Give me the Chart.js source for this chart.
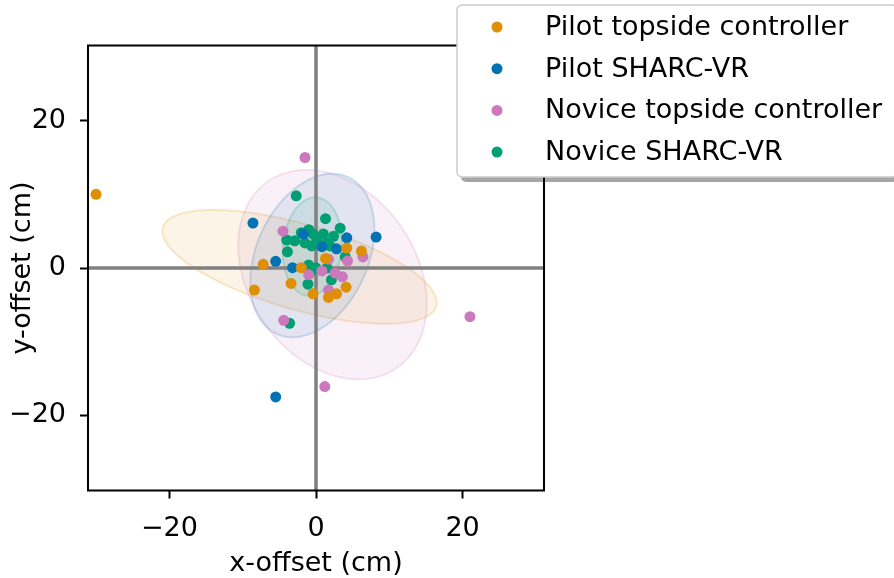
<!DOCTYPE html>
<html>
<head>
<meta charset="utf-8">
<script src="https://cdn.jsdelivr.net/npm/chart.js@4/dist/chart.umd.min.js"></script>
<style>
  html, body { margin: 0; padding: 0; background: #fff; }
  canvas { display: block; }
</style>
</head>
<body>
<canvas id="chart" width="894" height="578"></canvas>
<script>
// Series names and colours (seaborn colorblind)
const seriesLabels = ['Pilot topside controller', 'Pilot SHARC-VR', 'Novice topside controller', 'Novice SHARC-VR'];
const seriesColors = ['#DE8F05', '#0173B2', '#CC78BC', '#029E73'];

// Offsets (cm)
const pilotTopsideX = [-30.0, -7.2, -8.4, -3.4, -2.0, -0.4, 1.3, 4.2, 6.2, 4.1, 2.8, 1.7];
const pilotTopsideY = [10.0, 0.5, -3.0, -2.1, 0.05, -3.5, 1.3, 2.7, 2.3, -2.6, -3.5, -4.0];

const pilotVrX = [-8.6, -5.5, -3.2, -5.5, 8.2, 4.2, 2.8, 0.8, -1.7];
const pilotVrY = [6.1, 0.9, 0.05, -17.5, 4.2, 4.1, 2.6, 2.9, 4.6];

const noviceTopsideX = [-1.5, -4.5, -4.4, 21.0, 1.2, 6.4, 4.3, 1.7, 2.6, 3.6, 1.7, -1.0, 0.8];
const noviceTopsideY = [15.0, 5.0, -7.1, -6.6, -16.1, 1.5, 0.95, 1.2, -0.7, -1.2, -3.0, -0.9, -0.4];

const noviceVrX = [-2.7, 1.3, 3.3, -1.0, -2.0, -0.4, 1.0, 2.4, -4.0, -2.9, -1.5, 0.1, 1.5, 1.9, -3.9, 4.0, -1.0, 0.0, 1.5, -0.8, 2.1, -1.1, -3.6, -0.6];
const noviceVrY = [9.8, 6.7, 5.4, 5.2, 4.8, 4.6, 4.6, 4.3, 3.8, 3.7, 3.4, 3.7, 3.4, 3.0, 2.2, 1.5, 0.4, 0.0, 0.0, -0.6, -1.6, -2.2, -7.5, 3.0];

// Confidence ellipses, one per series: centre, semi-axes, rotation (deg)
const ellipseCx = [-2.25, -0.5, 2.25, -0.5];
const ellipseCy = [0.15, 1.7, -0.9, 2.9];
const ellipseA = [19.4, 11.7, 15.4, 6.7];
const ellipseB = [5.8, 7.6, 11.4, 4.0];
const ellipseAngle = [-16, 65.3, 125, 84.7];

// Axes
const xTicks = [-20, 0, 20];
const yTicks = [-20, 0, 20];
const xLimits = [-31.1, 31.1];
const yLimits = [-30.2, 30.2];

const FONT = '"DejaVu Sans", sans-serif';

const toPoints = (xs, ys) => xs.map((v, i) => ({x: v, y: ys[i]}));
const seriesData = [
    toPoints(pilotTopsideX, pilotTopsideY),
    toPoints(pilotVrX, pilotVrY),
    toPoints(noviceTopsideX, noviceTopsideY),
    toPoints(noviceVrX, noviceVrY)
];

const withAlpha = function(hex, a) {
    const n = parseInt(hex.slice(1), 16);
    return `rgba(${(n >> 16) & 255}, ${(n >> 8) & 255}, ${n & 255}, ${a})`;
};

const tickLabel = v => v < 0 ? '\u2212' + Math.abs(v) : String(v);

// Ellipses, zero lines, frame and legend
const overlayPlugin = {
    id: 'overlay',
    beforeDatasetsDraw(chart) {
        const {ctx, chartArea: area, scales: {x, y}} = chart;
        ctx.save();
        ctx.beginPath();
        ctx.rect(area.left, area.top, area.right - area.left, area.bottom - area.top);
        ctx.clip();

        for (let i = 0; i < ellipseCx.length; i++) {
            const rad = ellipseAngle[i] * Math.PI / 180;
            ctx.beginPath();
            for (let k = 0; k <= 200; k++) {
                const t = k / 200 * 2 * Math.PI;
                const u = ellipseA[i] * Math.cos(t);
                const v = ellipseB[i] * Math.sin(t);
                const px = x.getPixelForValue(ellipseCx[i] + u * Math.cos(rad) - v * Math.sin(rad));
                const py = y.getPixelForValue(ellipseCy[i] + u * Math.sin(rad) + v * Math.cos(rad));
                if (k === 0) ctx.moveTo(px, py); else ctx.lineTo(px, py);
            }
            ctx.closePath();
            ctx.fillStyle = withAlpha(seriesColors[i], 0.1);
            ctx.fill();
            ctx.strokeStyle = withAlpha(seriesColors[i], 0.2);
            ctx.lineWidth = 2;
            ctx.stroke();
        }

        // zero lines
        ctx.strokeStyle = '#808080';
        ctx.lineWidth = 3.5;
        ctx.beginPath();
        const x0 = x.getPixelForValue(0);
        const y0 = y.getPixelForValue(0);
        ctx.moveTo(x0, area.top);
        ctx.lineTo(x0, area.bottom);
        ctx.moveTo(area.left, y0);
        ctx.lineTo(area.right, y0);
        ctx.stroke();
        ctx.restore();
    },
    afterDraw(chart) {
        const {ctx, chartArea: area} = chart;
        ctx.save();

        // frame (all four spines)
        ctx.strokeStyle = '#000';
        ctx.lineWidth = 2;
        ctx.strokeRect(area.left, area.top, area.right - area.left, area.bottom - area.top);

        // legend box with shadow
        const bx = 457, by = 5, bw = 440, bh = 172;
        ctx.fillStyle = 'rgba(0, 0, 0, 0.35)';
        ctx.beginPath();
        ctx.roundRect(bx + 4, by + 5, bw, bh, 5);
        ctx.fill();
        ctx.fillStyle = '#fff';
        ctx.strokeStyle = '#cccccc';
        ctx.lineWidth = 1.5;
        ctx.beginPath();
        ctx.roundRect(bx, by, bw, bh, 5);
        ctx.fill();
        ctx.stroke();

        ctx.font = '27px ' + FONT;
        ctx.textBaseline = 'middle';
        ctx.textAlign = 'left';
        for (let i = 0; i < seriesLabels.length; i++) {
            const ry = 27 + i * 41.7;
            ctx.fillStyle = seriesColors[i];
            ctx.beginPath();
            ctx.arc(497, ry, 5.5, 0, 2 * Math.PI);
            ctx.fill();
            ctx.fillStyle = '#000';
            ctx.fillText(seriesLabels[i], 545, ry + 1);
        }
        ctx.restore();
    }
};

const axisCommon = {
    type: 'linear',
    border: {display: false},
    grid: {
        drawOnChartArea: false,
        drawTicks: true,
        tickLength: 8,
        tickWidth: 2,
        color: '#000'
    },
    ticks: {
        font: {family: FONT, size: 27},
        color: '#000',
        callback: tickLabel
    }
};

new Chart(document.getElementById('chart'), {
    type: 'scatter',
    data: {
        datasets: seriesData.map((d, i) => ({
            label: seriesLabels[i],
            data: d,
            backgroundColor: seriesColors[i],
            borderWidth: 0,
            pointRadius: 5.5
        }))
    },
    options: {
        responsive: false,
        animation: false,
        devicePixelRatio: 1,
        layout: {
            padding: {top: 45.5, right: 350, left: 0, bottom: 0}
        },
        scales: {
            x: {
                ...axisCommon,
                position: 'bottom',
                min: xLimits[0],
                max: xLimits[1],
                afterBuildTicks: scale => { scale.ticks = xTicks.map(v => ({value: v})); },
                afterFit: scale => { scale.height = 87.5; },
                ticks: {...axisCommon.ticks, padding: 14, maxRotation: 0},
                title: {
                    display: true,
                    text: 'x-offset (cm)',
                    font: {family: FONT, size: 27, lineHeight: 1},
                    color: '#000',
                    padding: {top: 0, bottom: 1}
                }
            },
            y: {
                ...axisCommon,
                position: 'left',
                min: yLimits[0],
                max: yLimits[1],
                afterBuildTicks: scale => { scale.ticks = yTicks.map(v => ({value: v})); },
                afterFit: scale => { scale.width = 88; },
                ticks: {...axisCommon.ticks, padding: 14},
                title: {
                    display: true,
                    text: 'y-offset (cm)',
                    font: {family: FONT, size: 27, lineHeight: 1},
                    color: '#000',
                    padding: {top: 9.5, bottom: 0}
                }
            }
        },
        plugins: {
            legend: {display: false},
            tooltip: {enabled: false}
        }
    },
    plugins: [overlayPlugin]
});
</script>
</body>
</html>
